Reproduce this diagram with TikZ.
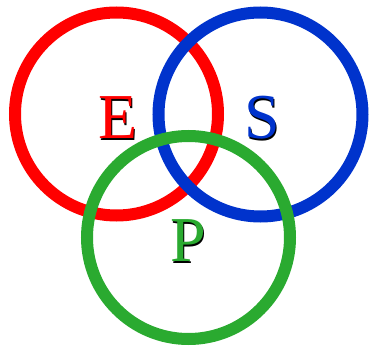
\documentclass[tikz,border=0pt]{standalone}
\usepackage{fontspec}
\setmainfont{Liberation Serif}
\definecolor{cred}{HTML}{FF0000}
\definecolor{cblue}{HTML}{0033CC}
\definecolor{cgreen}{HTML}{2AAA30}
\begin{document}
\begin{tikzpicture}[x=1pt,y=-1pt,
  ring/.style={line width=12pt},
  letter/.style={font=\fontsize{64}{64}\selectfont, inner sep=0pt, anchor=center},
  shadowltr/.style={letter, text=black}]
\useasboundingbox (0,0) rectangle (370,350);
\coordinate (cE) at (116.5,114);
\coordinate (cS) at (260.5,114.5);
\coordinate (cP) at (188.5,237.5);
\draw[ring, cred] (cE) circle[radius=101.5];
\draw[ring, cblue] (cS) circle[radius=102];
\draw[ring, cgreen] (cP) circle[radius=101.5];
\node[shadowltr] (Es) at (119.5,119.5) {E};
\node[letter, text=cred] (E) at (118,118) {E};
\node[shadowltr] (Ss) at (263.5,119.5) {S};
\node[letter, text=cblue] (S) at (262,118) {S};
\node[shadowltr] (Ps) at (189.5,242.5) {P};
\node[letter, text=cgreen] (P) at (188,241) {P};
\end{tikzpicture}
\end{document}
